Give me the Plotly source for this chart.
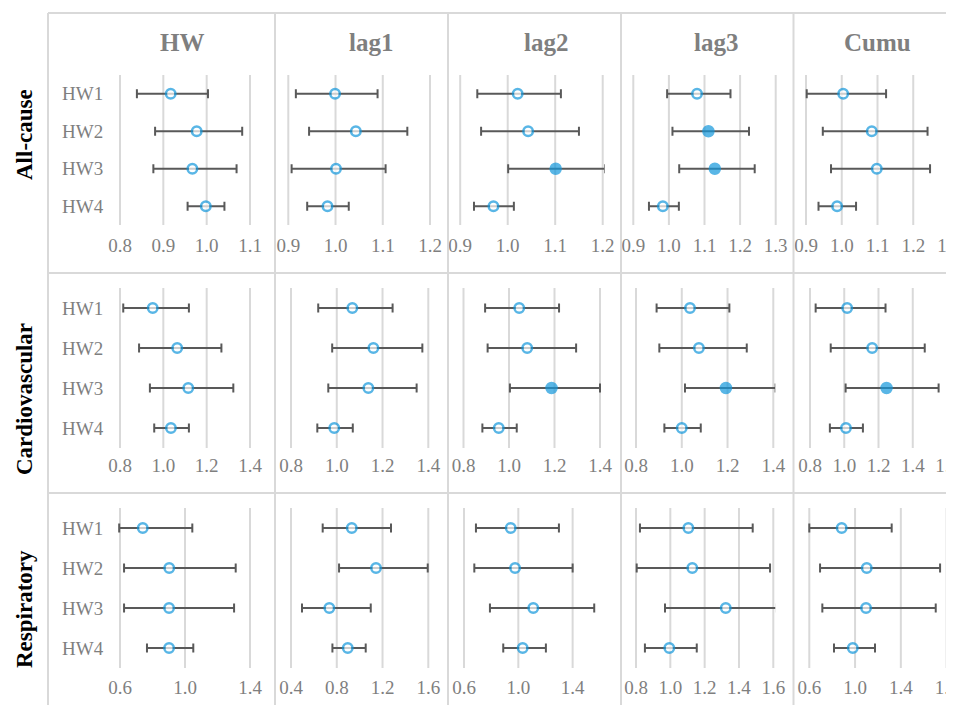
import plotly.graph_objects as go

# ---------------- data ----------------
categories = ["HW1", "HW2", "HW3", "HW4"]
lags = ["HW", "lag1", "lag2", "lag3", "Cumu"]
outcomes = ["All-cause", "Cardiovascular", "Respiratory"]

# relative risk estimates, lower and upper 95% CI, one list per lag column
allcause_est = [[0.917, 0.977, 0.967, 0.998], [0.999, 1.043, 1.001, 0.983], [1.021, 1.043, 1.101, 0.970],
                [1.079, 1.111, 1.129, 0.983], [1.004, 1.084, 1.098, 0.987]]
allcause_lo = [[0.839, 0.881, 0.877, 0.956], [0.916, 0.944, 0.907, 0.940], [0.936, 0.944, 1.001, 0.929],
               [0.995, 1.010, 1.029, 0.944], [0.902, 0.947, 0.970, 0.935]]
allcause_hi = [[1.003, 1.082, 1.069, 1.041], [1.089, 1.152, 1.106, 1.028], [1.112, 1.150, 1.205, 1.013],
               [1.173, 1.225, 1.241, 1.028], [1.124, 1.240, 1.247, 1.040]]

cardio_est = [[0.951, 1.064, 1.115, 1.035], [1.068, 1.160, 1.138, 0.989], [1.045, 1.080, 1.187, 0.955],
              [1.036, 1.075, 1.193, 1.000], [1.017, 1.163, 1.247, 1.010]]
cardio_lo = [[0.815, 0.888, 0.938, 0.958], [0.919, 0.980, 0.963, 0.915], [0.895, 0.906, 1.004, 0.883],
             [0.890, 0.902, 1.014, 0.924], [0.833, 0.921, 1.008, 0.916]]
cardio_hi = [[1.118, 1.268, 1.323, 1.118], [1.244, 1.374, 1.349, 1.070], [1.220, 1.295, 1.400, 1.034],
             [1.208, 1.284, 1.410, 1.083], [1.241, 1.470, 1.551, 1.109]]

resp_est = [[0.740, 0.903, 0.902, 0.902], [0.931, 1.143, 0.735, 0.896], [0.944, 0.976, 1.110, 1.032],
            [1.105, 1.128, 1.323, 0.994], [0.883, 1.102, 1.096, 0.980]]
resp_lo = [[0.595, 0.625, 0.625, 0.766], [0.677, 0.820, 0.496, 0.762], [0.688, 0.676, 0.791, 0.889],
           [0.823, 0.804, 0.969, 0.852], [0.600, 0.694, 0.714, 0.816]]
resp_hi = [[1.045, 1.312, 1.302, 1.051], [1.274, 1.595, 1.097, 1.053], [1.299, 1.400, 1.559, 1.203],
           [1.480, 1.581, 1.620, 1.154], [1.320, 1.743, 1.705, 1.174]]

# axis settings per panel: (min, max, major unit)
axis_allcause = [(0.8, 1.1, 0.1), (0.9, 1.2, 0.1), (0.9, 1.2, 0.1), (0.9, 1.3, 0.1), (0.9, 1.3, 0.1)]
axis_cardio = [(0.8, 1.4, 0.2), (0.8, 1.4, 0.2), (0.8, 1.4, 0.2), (0.8, 1.4, 0.2), (0.8, 1.6, 0.2)]
axis_resp = [(0.6, 1.4, 0.4), (0.4, 1.6, 0.4), (0.6, 1.6, 0.4), (0.8, 1.6, 0.2), (0.6, 1.8, 0.4)]

# ---------------- layout geometry (page pixels) ----------------
OFF = 8            # default body margin of the html page
W, H = 954 - OFF, 705 - OFF
x_dom = [[(120, 250), (288.3, 430), (460.2, 602.7), (633.3, 775.7), (806, 949)],
         [(120, 250), (291, 428.3), (463.5, 600), (636, 773.3), (810, 947)],
         [(120, 250), (291, 428.3), (464, 599.8), (636, 773.3), (809.3, 946.6)]]
y_dom = [(75, 225), (288, 448), (508, 668)]
row_ticklen = [3, 0, 2]
title_x = [182, 370.5, 545.8, 715.8, 877.5]
row_label_y = [135, 399, 609]
PAD = 2.0          # px of slack at each end so edge gridlines are not clipped


def pxx(x):
    return (x - OFF) / W


def pxy(y):
    return 1 - (y - OFF) / H


BLUE = "#1498DC"
ERR = "#595959"
GRID = "#D9D9D9"
GREY = "#7F7F7F"
FONT = "Liberation Serif"

est_all = [allcause_est, cardio_est, resp_est]
lo_all = [allcause_lo, cardio_lo, resp_lo]
hi_all = [allcause_hi, cardio_hi, resp_hi]
axes_all = [axis_allcause, axis_cardio, axis_resp]

fig = go.Figure()
layout = {}
shapes = []

for r in range(3):
    for c in range(5):
        idx = r * 5 + c + 1
        sfx = "" if idx == 1 else str(idx)
        est = est_all[r][c]
        lo = lo_all[r][c]
        hi = hi_all[r][c]
        filled = [l > 1.0 for l in lo]
        fig.add_trace(go.Scatter(
            x=est, y=categories, mode="markers",
            xaxis=f"x{sfx}", yaxis=f"y{sfx}",
            error_x=dict(type="data", symmetric=False,
                         array=[h - e for h, e in zip(hi, est)],
                         arrayminus=[e - l for e, l in zip(est, lo)],
                         color=ERR, thickness=2, width=4.5),
            marker=dict(symbol="circle",
                        size=[11 if f else 9.5 for f in filled],
                        color=[BLUE if f else "white" for f in filled],
                        line=dict(color=BLUE, width=[1.5 if f else 2.5 for f in filled])),
            showlegend=False, hoverinfo="skip",
        ))
        amin, amax, step = axes_all[r][c]
        x0, x1 = x_dom[r][c]
        y0, y1 = y_dom[r]
        ppu = (x1 - x0) / (amax - amin)
        pad = PAD / ppu
        layout[f"xaxis{sfx}"] = dict(domain=[pxx(x0 - PAD), pxx(x1 + PAD)], anchor=f"y{sfx}",
                                     range=[amin - pad, amax + pad], tickmode="linear", tick0=amin, dtick=step,
                                     tickformat=".1f", showgrid=False,
                                     zeroline=False, showline=False, ticks="outside", ticklen=row_ticklen[r],
                                     tickcolor="rgba(0,0,0,0)", automargin=False, ticklabeloverflow="allow",
                                     tickfont=dict(family=FONT, size=19, color=GREY),
                                     fixedrange=True)
        layout[f"yaxis{sfx}"] = dict(domain=[pxy(y1), pxy(y0)], anchor=f"x{sfx}",
                                     type="category", categoryorder="array", categoryarray=categories,
                                     range=[3.5, -0.5], showgrid=False, zeroline=False, showline=False,
                                     showticklabels=(c == 0), ticks="outside" if c == 0 else "",
                                     ticklen=10, tickcolor="rgba(0,0,0,0)", automargin=False,
                                     tickfont=dict(family=FONT, size=19, color=GREY),
                                     fixedrange=True)
        # vertical major gridlines at every major unit, drawn on the axis scale
        n = int((amax - amin) / step + 1e-6)
        for k in range(n + 1):
            t = amin + k * step
            shapes.append(dict(type="line", xref=f"x{sfx}", yref=f"y{sfx} domain",
                               x0=t, x1=t, y0=0, y1=1, layer="below",
                               line=dict(color=GRID, width=2)))

annotations = []
for c, name in enumerate(lags):
    annotations.append(dict(text=f"<b>{name}</b>", x=pxx(title_x[c]), y=pxy(43),
                            xref="paper", yref="paper", showarrow=False,
                            xanchor="center", yanchor="middle",
                            font=dict(family=FONT, size=25, color=GREY)))
for r, name in enumerate(outcomes):
    annotations.append(dict(text=f"<b>{name}</b>", x=pxx(24), y=pxy(row_label_y[r]),
                            xref="paper", yref="paper", showarrow=False, textangle=-90,
                            xanchor="center", yanchor="middle",
                            font=dict(family=FONT, size=23, color="black")))

line_style = dict(color=GRID, width=2)
shapes.append(dict(type="line", xref="paper", yref="paper", x0=pxx(48), x1=1.0, y0=pxy(13), y1=pxy(13), line=line_style))
shapes.append(dict(type="line", xref="paper", yref="paper", x0=pxx(48), x1=pxx(48), y0=pxy(13), y1=0.0, line=line_style))
for yy in (273, 493):
    shapes.append(dict(type="line", xref="paper", yref="paper", x0=pxx(48), x1=1.0, y0=pxy(yy), y1=pxy(yy), line=line_style))
for xx in (275, 448, 621, 793.5):
    shapes.append(dict(type="line", xref="paper", yref="paper", x0=pxx(xx), x1=pxx(xx), y0=pxy(13), y1=0.0, line=line_style))

fig.update_layout(**layout)
fig.update_layout(width=W, height=H, margin=dict(l=0, r=0, t=0, b=0, pad=0, autoexpand=False),
                  paper_bgcolor="white", plot_bgcolor="white",
                  annotations=annotations, shapes=shapes,
                  font=dict(family=FONT, color=GREY))

fig.write_html("out.html")
